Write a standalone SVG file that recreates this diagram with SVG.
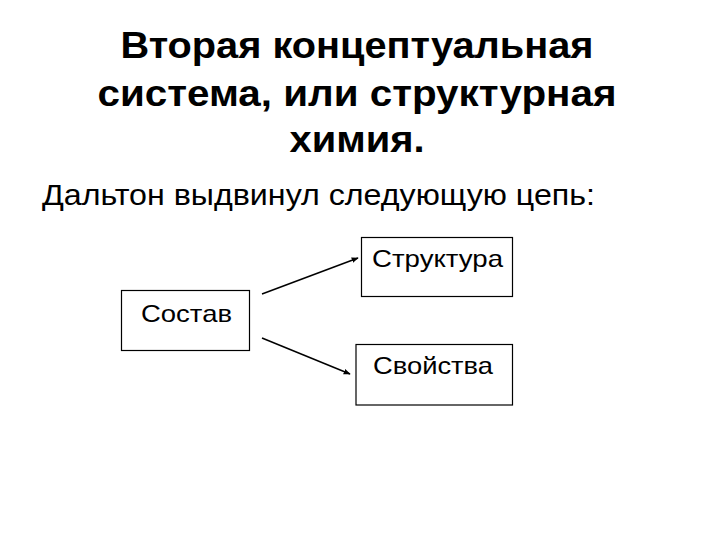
<svg xmlns="http://www.w3.org/2000/svg" width="720" height="540" viewBox="0 0 720 540">
<defs>
<style>
.t{font-family:"Liberation Sans",Arial,sans-serif;fill:#000}
.title{font-size:36px;font-weight:bold;text-anchor:middle}
.sub{font-size:30px}
.lbl{font-size:24px}
.box{fill:#fff;stroke:#000;stroke-width:1.2}
.conn{stroke:#000;stroke-width:1.5;fill:none;marker-end:url(#ah)}
</style>
<marker id="ah" viewBox="0 0 10 10" refX="9" refY="5" markerWidth="7" markerHeight="7" orient="auto" markerUnits="userSpaceOnUse">
<path d="M0,1 L10,5 L0,9 z" fill="#000"/>
</marker>
</defs>
<rect width="720" height="540" fill="#fff"/>
<g id="title">
<text class="t title" x="357" y="58" textLength="473" lengthAdjust="spacingAndGlyphs">Вторая концептуальная</text>
<text class="t title" x="357" y="106" textLength="519" lengthAdjust="spacingAndGlyphs">система, или структурная</text>
<text class="t title" x="357" y="152" textLength="135" lengthAdjust="spacingAndGlyphs">химия.</text>
</g>
<g id="subtitle">
<text class="t sub" x="42" y="205" textLength="553" lengthAdjust="spacingAndGlyphs">Дальтон выдвинул следующую цепь:</text>
</g>
<g id="node-structure">
<rect class="box" x="361.5" y="237.5" width="151" height="59"/>
<text class="t lbl" x="372" y="267" textLength="131" lengthAdjust="spacingAndGlyphs">Структура</text>
</g>
<g id="node-composition">
<rect class="box" x="121.5" y="290.5" width="128" height="60"/>
<text class="t lbl" x="141" y="322" textLength="91" lengthAdjust="spacingAndGlyphs">Состав</text>
</g>
<g id="node-properties">
<rect class="box" x="356" y="344.5" width="156.5" height="60.5"/>
<text class="t lbl" x="373" y="374" textLength="120" lengthAdjust="spacingAndGlyphs">Свойства</text>
</g>
<g id="connectors">
<line class="conn" x1="262" y1="294" x2="358" y2="258"/>
<line class="conn" x1="262" y1="338" x2="350" y2="374"/>
</g>
</svg>
